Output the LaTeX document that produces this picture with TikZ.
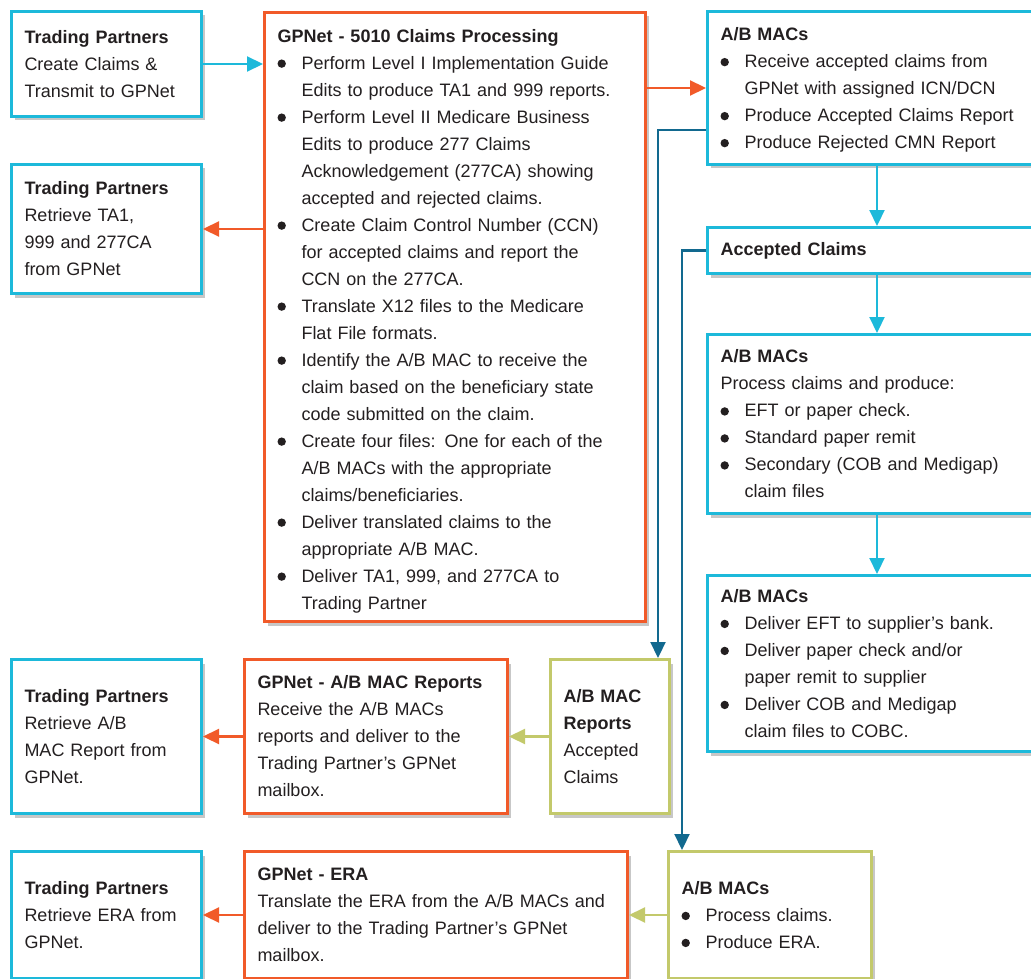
\documentclass[tikz,border=0pt]{standalone}
\usepackage{fontspec}
\setmainfont{Liberation Sans}
\usepackage{tikz}
\usetikzlibrary{arrows.meta, positioning, shadows, calc}
\definecolor{mainBlack}{HTML}{231F20}
\definecolor{tpCyan}{HTML}{1DB9DA}
\definecolor{gpOrange}{HTML}{F15A29}
\definecolor{macTeal}{HTML}{12698F}
\definecolor{rptGreen}{HTML}{C3C96B}
\setlength{\parindent}{0pt}
\newcommand{\bdot}{\tikz[baseline=0pt]\fill[mainBlack] (4.5pt,5.5pt) circle (4.2pt);}
\newcommand{\bitem}[1]{\par\hangindent=24pt\hangafter=1\noindent\makebox[24pt][l]{\bdot}#1\par}

\begin{document}
\begin{tikzpicture}[x=1pt, y=-1pt,
    box/.style={draw, line width=3pt, fill=white, anchor=north west, align=left,
        inner xsep=13pt, inner ysep=6pt, text=mainBlack,
        font=\fontsize{18}{27}\selectfont,
        drop shadow={shadow xshift=3pt, shadow yshift=-4pt, fill=black, opacity=0.22}},
    cyanBox/.style={box, draw=tpCyan},
    orangeBox/.style={box, draw=gpOrange},
    greenBox/.style={box, draw=rptGreen},
    link/.style={line width=2.2pt, -{Triangle[length=16pt, width=15pt]}},
    cyanArrow/.style={link, tpCyan},
    orangeArrow/.style={link, gpOrange},
    tealArrow/.style={link, macTeal},
    greenArrow/.style={link, rptGreen}]
    \useasboundingbox (0,0) rectangle (1031,979);

    % left column: trading partners
    \node[cyanBox, text width=164pt, minimum height=105pt] (tpCreate) at (10,10)
        {\textbf{Trading Partners}\\Create Claims \&\\Transmit to GPNet};
    \node[cyanBox, text width=164pt, minimum height=129pt] (tpRetrieve) at (10,163)
        {\textbf{Trading Partners}\\Retrieve TA1,\\999 and 277CA\\from GPNet};
    \node[cyanBox, text width=164pt, minimum height=154pt] (tpReports) at (10,658)
        {\textbf{Trading Partners}\\Retrieve A/B\\MAC Report from\\GPNet.};
    \node[cyanBox, text width=164pt, minimum height=127pt] (tpEra) at (10,850)
        {\textbf{Trading Partners}\\Retrieve ERA from\\GPNet.};

    % GPNet processing
    \node[orangeBox, text width=355pt, minimum height=609pt] (gpProc) at (263,11)
        {\rule{0pt}{21pt}\textbf{GPNet - 5010 Claims Processing}%
        \bitem{Perform Level I Implementation Guide\newline Edits to produce TA1 and 999 reports.}%
        \bitem{Perform Level II Medicare Business\newline Edits to produce 277 Claims\newline Acknowledgement (277CA) showing\newline accepted and rejected claims.}%
        \bitem{Create Claim Control Number (CCN)\newline for accepted claims and report the\newline CCN on the 277CA.}%
        \bitem{Translate X12 files to the Medicare\newline Flat File formats.}%
        \bitem{Identify the A/B MAC to receive the\newline claim based on the beneficiary state\newline code submitted on the claim.}%
        \bitem{Create four files: One for each of the\newline A/B MACs with the appropriate\newline claims/beneficiaries.}%
        \bitem{Deliver translated claims to the\newline appropriate A/B MAC.}%
        \bitem{Deliver TA1, 999, and 277CA to\newline Trading Partner}};
    \node[orangeBox, text width=237pt, minimum height=154pt] (gpReports) at (243,658)
        {\textbf{GPNet - A/B MAC Reports}\\Receive the A/B MACs\\reports and deliver to the\\Trading Partner’s GPNet\\mailbox.};
    \node[orangeBox, text width=357pt, minimum height=127pt] (gpEra) at (243,850)
        {\textbf{GPNet - ERA}\\Translate the ERA from the A/B MACs and\\deliver to the Trading Partner’s GPNet\\mailbox.};

    % A/B MACs
    \node[cyanBox, text width=313pt, minimum height=153pt] (abIntake) at (706,10)
        {\rule{0pt}{17pt}\textbf{A/B MACs}%
        \bitem{Receive accepted claims from\newline GPNet with assigned ICN/DCN}%
        \bitem{Produce Accepted Claims Report}%
        \bitem{Produce Rejected CMN Report}};
    \node[cyanBox, text width=313pt, minimum height=46pt] (accClaims) at (706,226)
        {\textbf{Accepted Claims}};
    \node[cyanBox, text width=313pt, minimum height=179pt] (abProcess) at (706,333)
        {\textbf{A/B MACs}\\Process claims and produce:%
        \bitem{EFT or paper check.}%
        \bitem{Standard paper remit}%
        \bitem{Secondary (COB and Medigap)\newline claim files}};
    \node[cyanBox, text width=313pt, minimum height=176pt] (abDeliver) at (706,574)
        {\textbf{A/B MACs}%
        \bitem{Deliver EFT to supplier’s bank.}%
        \bitem{Deliver paper check and/or\newline paper remit to supplier}%
        \bitem{Deliver COB and Medigap\newline claim files to COBC.}};
    \node[greenBox, text width=93pt, minimum height=154pt] (abReports) at (549,658)
        {\textbf{A/B MAC}\\\textbf{Reports}\\Accepted\\Claims};
    \node[greenBox, text width=177pt, minimum height=127pt] (abEra) at (667,850)
        {\textbf{A/B MACs}%
        \bitem{Process claims.}%
        \bitem{Produce ERA.}};

    % connectors
    \draw[cyanArrow] (tpCreate.east) -- (tpCreate.east -| gpProc.west);
    \draw[orangeArrow] (gpProc.east |- abIntake.west) -- (abIntake.west);
    \draw[orangeArrow] (gpProc.west |- tpRetrieve.east) -- (tpRetrieve.east);
    \draw[cyanArrow] (abIntake.south) -- (accClaims.north);
    \draw[cyanArrow] (accClaims.south) -- (abProcess.north);
    \draw[cyanArrow] (abProcess.south) -- (abDeliver.north);
    \draw[tealArrow] ([yshift=-42pt]abIntake.west) -| ([xshift=48pt]abReports.north);
    \draw[tealArrow] (accClaims.west) -| ([xshift=15pt]abEra.north west);
    \draw[greenArrow] (abReports.west) -- (gpReports.east);
    \draw[orangeArrow] (gpReports.west) -- (tpReports.east);
    \draw[greenArrow] (abEra.west) -- (gpEra.east);
    \draw[orangeArrow] (gpEra.west) -- (tpEra.east);
\end{tikzpicture}
\end{document}
